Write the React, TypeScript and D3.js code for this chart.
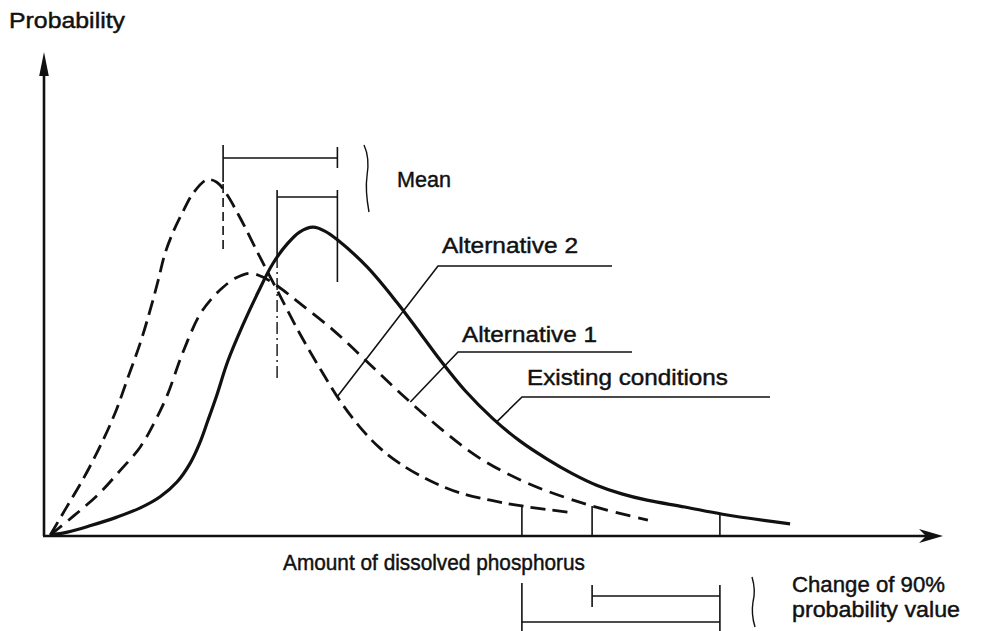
import React from "react";
import * as d3 from "d3";

type Pt = [number, number];

// Curves in data units: x = amount (0..100), y = probability (0..100)
const alt2Curve: Pt[] = [
  [0.7, 0.2], [2.4, 5.6], [4.3, 11.6], [6.2, 18.4], [7.9, 25.4], [9.3, 32.6],
  [10.7, 39.9], [11.8, 46.7], [12.7, 52.9], [13.4, 58.1], [14.3, 62.6], [15.4, 66.9],
  [16.6, 70.9], [18.1, 73.6], [19.2, 73.1], [20.2, 70.9], [21.8, 65.7], [24.0, 57.6],
  [25.9, 50.8], [28.4, 41.9], [30.7, 34.5], [32.9, 27.9], [35.1, 22.5], [37.3, 18.2],
  [39.6, 14.9], [42.9, 11.4], [46.2, 8.9], [49.6, 7.4], [53.1, 6.2], [58.7, 4.8],
];
const alt1Curve: Pt[] = [
  [0.7, 0.2], [3.4, 4.3], [6.2, 8.9], [8.4, 13.4], [10.7, 18.4], [12.3, 23.6],
  [13.7, 29.1], [15.4, 37.8], [17.3, 45.7], [18.7, 49.2], [19.9, 51.4], [21.3, 53.3],
  [22.9, 54.3], [24.3, 53.5], [25.9, 51.7], [28.4, 48.1], [32.1, 42.6], [35.9, 36.0],
  [39.6, 29.5], [44.0, 22.3], [48.4, 16.1], [54.0, 10.7], [60.9, 6.2], [67.1, 3.3],
];
const existingCurve: Pt[] = [
  [0.7, 0.2], [2.6, 0.8], [5.1, 2.1], [8.1, 3.9], [10.7, 5.8], [12.9, 8.1],
  [14.8, 11.2], [16.2, 14.9], [17.3, 19.2], [18.2, 23.8], [19.2, 29.1], [20.4, 36.0],
  [22.1, 43.6], [23.8, 50.4], [25.4, 56.2], [27.1, 60.5], [28.4, 62.8], [29.9, 63.8],
  [31.2, 63.0], [32.6, 61.2], [35.9, 55.6], [39.2, 48.3], [41.8, 41.9], [44.0, 36.4],
  [46.8, 30.0], [49.9, 24.2], [52.9, 19.6], [55.9, 15.9], [58.7, 12.9], [61.4, 10.5],
  [64.2, 8.7], [67.0, 7.4], [71.2, 6.0], [75.4, 4.5], [82.9, 2.5],
];

const seriesNames = ["Alternative 2", "Alternative 1", "Existing conditions"];
const meanValues = [19.9, 25.9, 32.6];
const p90Values = [53.1, 60.9, 75.1];
const leaderAnchorX = [32.6, 40.7, 50.3];

const W = 983;
const H = 631;

const x = d3.scaleLinear().domain([0, 100]).range([44, 944]);
const y = d3.scaleLinear().domain([0, 100]).range([536, 52]);

const line = d3
  .line<Pt>()
  .x((d) => x(d[0]))
  .y((d) => y(d[1]))
  .curve(d3.curveCatmullRom.alpha(0.5));

function yAt(curve: Pt[], xv: number): number {
  const bis = d3.bisector((d: Pt) => d[0]).left;
  const i = Math.max(1, Math.min(curve.length - 1, bis(curve, xv)));
  const a = curve[i - 1];
  const b = curve[i];
  const t = (xv - a[0]) / (b[0] - a[0]);
  return a[1] + t * (b[1] - a[1]);
}

const curves = [alt2Curve, alt1Curve, existingCurve];
const curveStyles = [
  { dash: "15 7", width: 2.8 },
  { dash: "15 8", width: 2.8 },
  { dash: "none", width: 3.2 },
];

// label layout (pixels)
const labelLayout = [
  { tx: 442, ty: 253, tw: 136, hx0: 438, hx1: 612, hy: 266 },
  { tx: 462, ty: 342, tw: 135, hx0: 458, hx1: 632, hy: 352 },
  { tx: 527, ty: 385, tw: 201, hx0: 522, hx1: 770, hy: 397 },
];

const FONT = "'Liberation Sans', Arial, Helvetica, sans-serif";
const INK = "#111";

function T(props: { x: number; y: number; w: number; children: string }) {
  return (
    <text
      x={props.x}
      y={props.y}
      textLength={props.w}
      lengthAdjust="spacingAndGlyphs"
      fontFamily={FONT}
      fontSize={22.5}
      fill={INK}
      stroke={INK}
      strokeWidth={0.45}
    >
      {props.children}
    </text>
  );
}

export default function App() {
  const [m2, m1, mE] = meanValues.map((v) => x(v));
  const [q2, q1, qE] = p90Values.map((v) => x(v));
  return (
    <svg width={W} height={H} style={{ position: "absolute", left: 0, top: 0, background: "#fff" }}>
      <rect width={W} height={H} fill="#fff" />
      {/* axes */}
      <line x1={x(0)} y1={y(0)} x2={x(0)} y2={72} stroke={INK} strokeWidth={2.6} />
      <path d={`M${x(0)},52 L${x(0) + 4.8},76 L${x(0) - 4.8},76 Z`} fill={INK} />
      <line x1={x(0) - 1} y1={y(0)} x2={926} y2={y(0)} stroke={INK} strokeWidth={2.6} />
      <path d={`M943,${y(0)} L919,${y(0) - 7} L926,${y(0)} L919,${y(0) + 7} Z`} fill={INK} />

      {/* curves */}
      {curves.map((c, i) => (
        <path
          key={i}
          d={line(c) || ""}
          fill="none"
          stroke={INK}
          strokeWidth={curveStyles[i].width}
          strokeDasharray={curveStyles[i].dash}
          strokeLinecap="butt"
          strokeLinejoin="round"
        />
      ))}

      {/* 90% drop lines */}
      {p90Values.map((v, i) => (
        <line key={i} x1={x(v)} x2={x(v)} y1={y(0)} y2={y(yAt(curves[i], v))} stroke={INK} strokeWidth={1.6} />
      ))}

      {/* mean lines */}
      <line x1={m2} x2={m2} y1={145} y2={182} stroke={INK} strokeWidth={1.6} />
      <line x1={m2} x2={m2} y1={184} y2={253} stroke={INK} strokeWidth={1.6} strokeDasharray="9 5" />
      <line x1={m1} x2={m1} y1={190} y2={256} stroke={INK} strokeWidth={1.6} />
      <line x1={m1} x2={m1} y1={256} y2={378} stroke={INK} strokeWidth={1.4} strokeDasharray="12 4 2 4" />
      <line x1={mE} x2={mE} y1={147} y2={168} stroke={INK} strokeWidth={1.6} />
      <line x1={mE} x2={mE} y1={190} y2={282} stroke={INK} strokeWidth={1.6} />
      <line x1={m2} x2={mE} y1={158} y2={158} stroke={INK} strokeWidth={1.6} />
      <line x1={m1} x2={mE} y1={197} y2={197} stroke={INK} strokeWidth={1.6} />
      <path d="M364,145 Q370,158 367,176 Q365,190 369,212" fill="none" stroke={INK} strokeWidth={1.4} />
      <T x={397} y={187} w={54}>Mean</T>

      {/* series labels with leaders */}
      {labelLayout.map((l, i) => {
        const ax = x(leaderAnchorX[i]);
        const ay = y(yAt(curves[i], leaderAnchorX[i]));
        return (
          <g key={i}>
            <polyline
              points={`${ax},${ay} ${l.hx0},${l.hy} ${l.hx1},${l.hy}`}
              fill="none"
              stroke={INK}
              strokeWidth={1.6}
            />
            <T x={l.tx} y={l.ty} w={l.tw}>{seriesNames[i]}</T>
          </g>
        );
      })}

      {/* 90% change brackets */}
      <line x1={q2} x2={q2} y1={583} y2={631} stroke={INK} strokeWidth={1.6} />
      <line x1={q2} x2={qE} y1={622} y2={622} stroke={INK} strokeWidth={1.6} />
      <line x1={q1} x2={q1} y1={585} y2={607} stroke={INK} strokeWidth={1.6} />
      <line x1={q1} x2={qE} y1={596} y2={596} stroke={INK} strokeWidth={1.6} />
      <line x1={qE} x2={qE} y1={585} y2={631} stroke={INK} strokeWidth={1.6} />
      <path d="M752,577 Q756,590 753,602 Q751,614 755,627" fill="none" stroke={INK} strokeWidth={1.4} />

      {/* axis titles */}
      <T x={9} y={28} w={116}>Probability</T>
      <T x={283} y={570} w={302}>Amount of dissolved phosphorus</T>
      <T x={792} y={592} w={153}>Change of 90%</T>
      <T x={792} y={617} w={168}>probability value</T>
    </svg>
  );
}
